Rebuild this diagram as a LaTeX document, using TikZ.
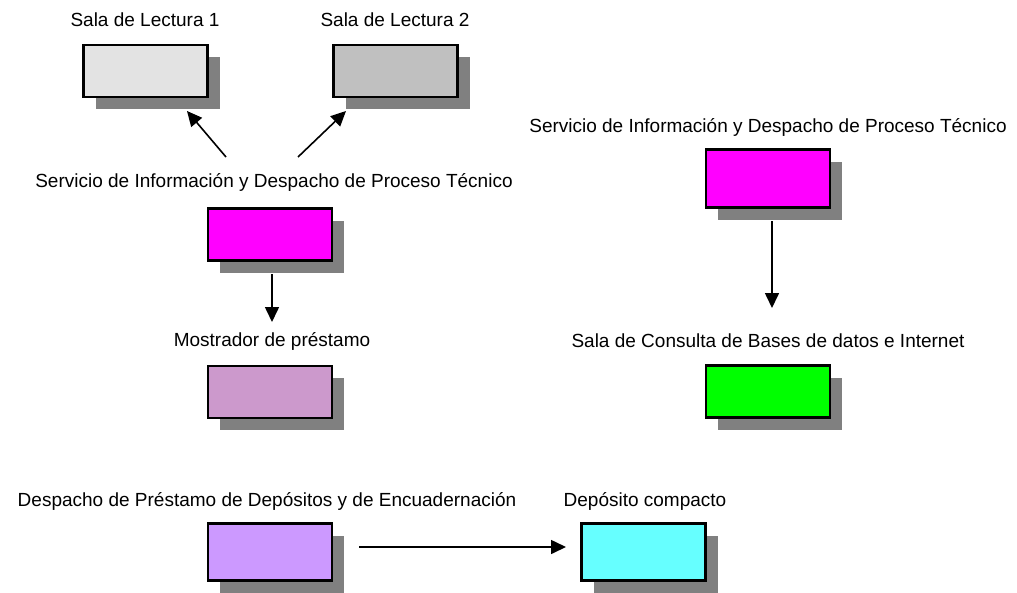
\documentclass[tikz,border=0pt]{standalone}
\usepackage{fontspec}
\setmainfont{Liberation Sans}
\usetikzlibrary{shadows,arrows.meta}
\definecolor{shadowgray}{RGB}{128,128,128}
\definecolor{cLa}{RGB}{227,227,227}
\definecolor{cLb}{RGB}{192,192,192}
\definecolor{cMag}{RGB}{255,0,255}
\definecolor{cMos}{RGB}{204,153,204}
\definecolor{cGreen}{RGB}{0,255,0}
\definecolor{cDesp}{RGB}{204,153,255}
\definecolor{cCyan}{RGB}{102,255,255}
\tikzset{
  boxnode/.style={draw=black, line width=2.4pt, minimum width=124pt, minimum height=#1, inner sep=0pt, outer sep=0pt,
    drop shadow={shadow xshift=12pt, shadow yshift=-12pt, fill=shadowgray, opacity=1}},
  boxnode/.default=52pt,
  lbl/.style={anchor=base, inner sep=0pt, font=\fontsize{19}{23}\selectfont},
  conn/.style={line width=1.6pt, -{Triangle[length=15pt,width=14pt]}}
}
\begin{document}
\begin{tikzpicture}[x=1pt,y=-1pt]
\useasboundingbox (0,0) rectangle (1017,592);
% labels
\node[lbl] (tL1) at (145,26) {Sala de Lectura 1};
\node[lbl] (tL2) at (395,26) {Sala de Lectura 2};
\node[lbl] (tS1) at (274,187) {Servicio de Información y Despacho de Proceso Técnico};
\node[lbl] (tM) at (272,346) {Mostrador de préstamo};
\node[lbl] (tS2) at (768,132) {Servicio de Información y Despacho de Proceso Técnico};
\node[lbl] (tG) at (768,347) {Sala de Consulta de Bases de datos e Internet};
\node[lbl] (tD) at (267,506) {Despacho de Préstamo de Depósitos y de Encuadernación};
\node[lbl] (tC) at (645,506) {Depósito compacto};
% boxes
\node[boxnode, fill=cLa] (L1) at (145.5,71) {};
\node[boxnode, fill=cLb] (L2) at (395.5,71) {};
\node[boxnode, fill=cMag] (S1) at (270,234.5) {};
\node[boxnode, fill=cMos] (M) at (270,392) {};
\node[boxnode=58pt, fill=cMag] (S2) at (768,178.5) {};
\node[boxnode, fill=cGreen] (G) at (768,391.5) {};
\node[boxnode=57pt, fill=cDesp] (D) at (270,552) {};
\node[boxnode=57pt, fill=cCyan] (C) at (643.5,552) {};
% connector ends
\coordinate (a1s) at (226,157);
\coordinate (a1e) at (187,111);
\coordinate (a2s) at (298,157);
\coordinate (a2e) at (346,111);
\coordinate (a3s) at (272,274);
\coordinate (a3e) at (272,322);
\coordinate (a4s) at (772,221);
\coordinate (a4e) at (772,308);
\coordinate (a5s) at (359,547);
\coordinate (a5e) at (566,547);
\draw[conn] (a1s) -- (a1e);
\draw[conn] (a2s) -- (a2e);
\draw[conn] (a3s) -- (a3e);
\draw[conn] (a4s) -- (a4e);
\draw[conn] (a5s) -- (a5e);
\end{tikzpicture}
\end{document}
